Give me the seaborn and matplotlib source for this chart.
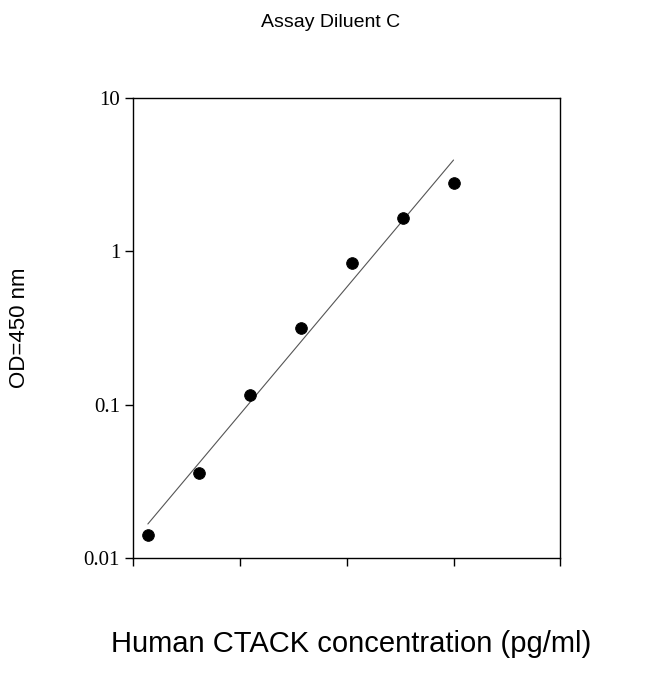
import numpy as np
import matplotlib
matplotlib.use("Agg")
import matplotlib.pyplot as plt
import seaborn as sns

sns.set_style("white")
plt.rcParams["font.family"] = ["Liberation Sans", "DejaVu Sans"]
plt.rcParams["text.color"] = "black"
plt.rcParams["axes.labelcolor"] = "black"

conc = [1.37, 4.12, 12.3, 37.0, 111.0, 333.0, 1000.0]
od = [0.0141, 0.036, 0.116, 0.318, 0.835, 1.64, 2.8]
yticks = [0.01, 0.1, 1, 10]
ytick_labels = ["0.01", "0.1", "1", "10"]

fig = plt.figure(figsize=(6.5, 6.74), dpi=100)
ax = fig.add_axes([0.205, 0.172, 0.657, 0.683])

# fitted line in log-log space
p = np.polyfit(np.log10(conc), np.log10(od), 1)
xf = np.array([conc[0], conc[-1]])
ax.plot(xf, 10 ** np.polyval(p, np.log10(xf)), color="#555555", lw=0.8)

sns.scatterplot(x=conc, y=od, ax=ax, color="black", s=70, edgecolor="black", zorder=3)

ax.set_xscale("log")
ax.set_yscale("log")
ax.set_xlim(1, 10000)
ax.set_ylim(0.01, 10)
ax.set_xticks([1, 10, 100, 1000, 10000])
ax.set_xticklabels([])
ax.set_yticks(yticks)
ax.set_yticklabels(ytick_labels, family="Liberation Serif", fontsize=15, color="black")
ax.minorticks_off()
ax.tick_params(axis="both", direction="out", length=6, width=1, color="black", bottom=True, left=True)
for s in ax.spines.values():
    s.set_color("black")
    s.set_linewidth(1)

fig.text(0.03, 0.513, "OD=450 nm", rotation=90, va="center", ha="center", fontsize=16)
fig.text(0.54, 0.033, "Human CTACK concentration (pg/ml)", ha="center", fontsize=21)
fig.text(0.508, 0.96, "Assay Diluent C", ha="center", fontsize=14)

fig.savefig("out.png", dpi=100)
